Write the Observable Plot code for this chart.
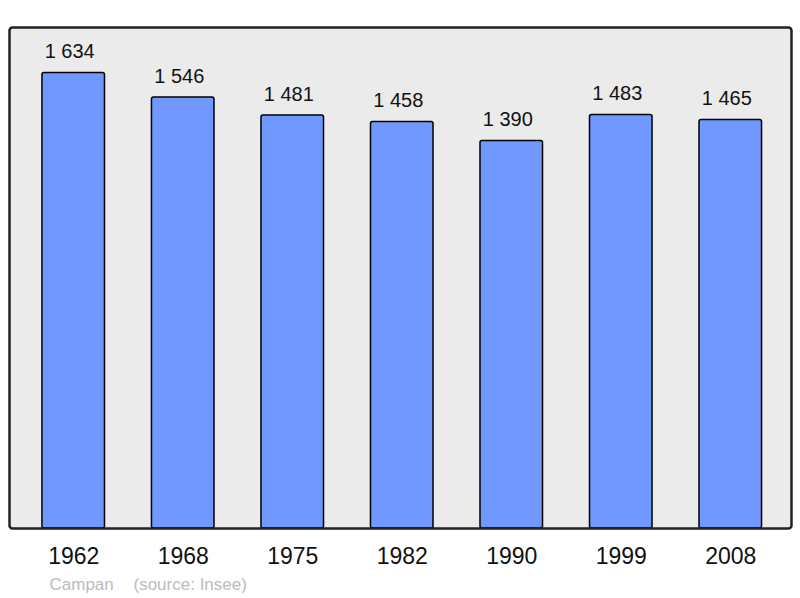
<!DOCTYPE html>
<html><head><meta charset="utf-8">
<script src="https://cdn.jsdelivr.net/npm/d3@7"></script>
<script src="https://cdn.jsdelivr.net/npm/@observablehq/plot@0.6"></script>
<style>body{margin:0;background:#fff}</style>
</head><body>
<script>
const years = ["1962","1968","1975","1982","1990","1999","2008"];
const population = [1634,1546,1481,1458,1390,1483,1465];
const commune = "Campan";
const source = "(source: Insee)";

const data = years.map((y,i)=>({year:y, pop:population[i], label:d3.format(",")(population[i]).replace(/,/g," ")}));
const font = "Liberation Sans, Arial, sans-serif";

const chart = Plot.plot({
  width: 800, height: 598,
  marginLeft: 9, marginRight: 9, marginTop: 27, marginBottom: 70,
  style: {fontFamily: font, background: "#fff"},
  x: {domain: years, paddingInner: 0.429, paddingOuter: 0.285, align: 0.528, round: false, label: null},
  y: {domain: [0, 1797], axis: null},
  marks: [
    Plot.frame({fill: "#ebebeb", stroke: "none"}),
    Plot.barY(data, {x: "year", y: "pop", fill: "#7098ff", stroke: "#000", strokeWidth: 1.5, rx: 2}),
    Plot.text(data, {x: "year", y: "pop", text: "label", dx: -4, dy: -21, fontSize: 20, fill: "#111", lineAnchor: "middle"}),
    Plot.frame({stroke: "#222", strokeWidth: 2.5, rx: 3}),
    Plot.axisX({fontSize: 23, tickSize: 0, tickPadding: 19, label: null, fill: "#111"}),
    Plot.text([commune], {frameAnchor: "bottom-left", dx: 40, dy: 56, fontSize: 17, fill: "#bbb", textAnchor: "start", lineAnchor: "middle"}),
    Plot.text([source], {frameAnchor: "bottom-left", dx: 124, dy: 56, fontSize: 17, fill: "#bbb", textAnchor: "start", lineAnchor: "middle"})
  ]
});
chart.querySelectorAll("text").forEach(t => t.style.fontFamily = font);
document.body.appendChild(chart);
</script>
</body></html>
